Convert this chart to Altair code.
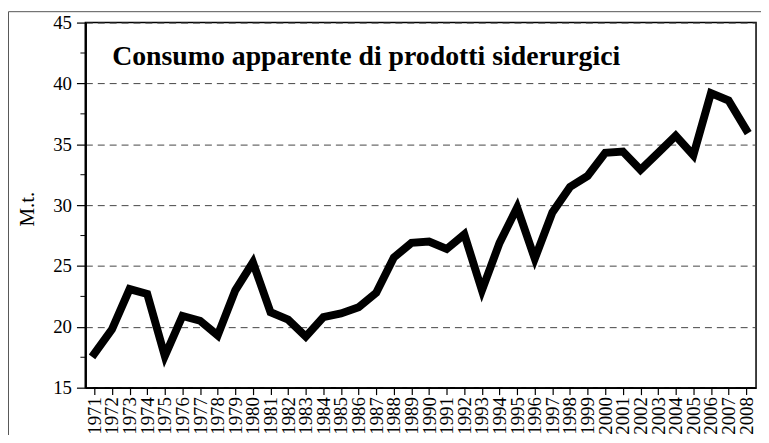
import altair as alt
import pandas as pd

years = list(range(1971, 2009))
values = [17.8, 19.8, 23.1, 22.7, 17.6, 20.9, 20.5, 19.3, 23.0, 25.3,
          21.2, 20.6, 19.2, 20.8, 21.1, 21.6, 22.8, 25.7, 26.9, 27.0,
          26.4, 27.6, 23.0, 26.9, 29.8, 25.6, 29.4, 31.5, 32.4, 34.3,
          34.4, 32.9, 34.3, 35.7, 34.1, 39.2, 38.6, 36.2]
y_ticks = [15, 20, 25, 30, 35, 40, 45]
y_minor = [17.5, 22.5, 27.5, 32.5, 37.5, 42.5]
title_text = "Consumo apparente di prodotti siderurgici"
y_title = "M.t."

df = pd.DataFrame({"year": years, "value": values})
FONT = "Liberation Serif"

xscale = alt.Scale(domain=[1970.49, 2008.56], nice=False, zero=False)
yscale = alt.Scale(domain=[15, 45], nice=False, zero=False)

yaxis = alt.Axis(values=y_ticks, title=None, grid=True,
                 gridColor="#444", gridDash=[7, 5], gridWidth=1,
                 tickSize=9, tickColor="black", tickWidth=1.2,
                 labelFont=FONT, labelFontSize=19, labelColor="black",
                 labelPadding=5, domainColor="black", domainWidth=2.2)

line = alt.Chart(df).mark_line(color="black", strokeWidth=8, strokeJoin="miter", strokeCap="square").encode(
    x=alt.X("year:Q", scale=xscale,
            axis=alt.Axis(values=years, format="d", labelAngle=-90, title=None,
                          grid=False, tickSize=7, tickColor="black", tickWidth=1.2,
                          labelFont=FONT, labelFontSize=19, labelColor="black",
                          labelPadding=2, labelOverlap=False,
                          domainColor="black", domainWidth=1.5)),
    y=alt.Y("value:Q", scale=yscale, axis=yaxis),
)

minor = alt.Chart(pd.DataFrame({"m": y_minor})).mark_rule(color="black", strokeWidth=1).encode(
    y=alt.Y("m:Q", scale=yscale, axis=yaxis),
    x=alt.value(-5), x2=alt.value(0),
)

title = alt.Chart(pd.DataFrame({"t": [title_text]})).mark_text(
    font=FONT, fontSize=28, fontWeight="bold", align="left", baseline="alphabetic", color="black"
).encode(text="t:N", x=alt.value(27), y=alt.value(42.6))

ytitle = alt.Chart(pd.DataFrame({"t": [y_title]})).mark_text(
    font=FONT, fontSize=21, align="center", baseline="middle", angle=270, color="black"
).encode(text="t:N", x=alt.value(-57.5), y=alt.value(188))

frame_top = alt.Chart(pd.DataFrame({"a": [0]})).mark_rule(color="#555", strokeWidth=1).encode(
    x=alt.value(-77.5), x2=alt.value(690), y=alt.value(-11))
frame_left = alt.Chart(pd.DataFrame({"a": [0]})).mark_rule(color="#555", strokeWidth=1).encode(
    x=alt.value(-77.5), y=alt.value(-11), y2=alt.value(440))

chart = alt.layer(line, minor, title, ytitle, frame_top, frame_left).properties(
    width=676, height=368,
    autosize=alt.AutoSizeParams(type="none"),
    padding={"left": 78, "top": 13, "right": 5, "bottom": 46},
    background="white",
).configure_view(stroke="black", strokeWidth=1.5)

chart.save("out.html", embed_options={"renderer": "svg", "actions": False})
